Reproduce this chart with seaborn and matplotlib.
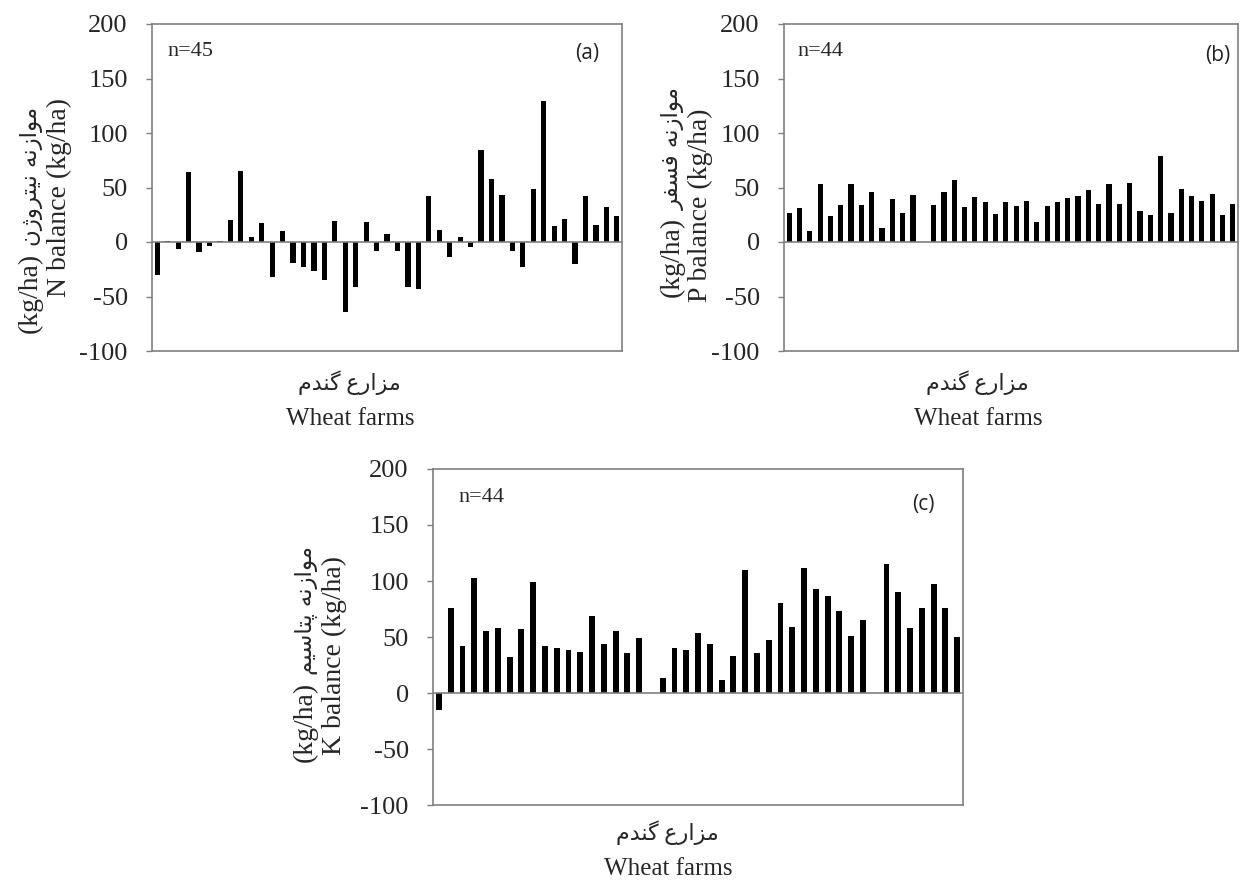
import numpy as np
import pandas as pd
import matplotlib
matplotlib.use("Agg")
import matplotlib.pyplot as plt
from matplotlib.transforms import offset_copy
import seaborn as sns

# ---------------- data ----------------
n_balance = [-30, 1, -6, 64, -9, -4, 1, 20, 65, 5, 17, -32, 10, -19, -23, -27, -35, 19,
             -64, -41, 18, -8, 7, -8, -41, -43, 42, 11, -14, 5, -5, 84, 58, 43, -8, -23,
             49, 129, 15, 21, -20, 42, 16, 32, 24]
p_balance = [27, 31, 10, 53, 24, 34, 53, 34, 46, 13, 39, 27, 43, 0, 34, 46, 57, 32, 41, 37,
             26, 37, 33, 38, 18, 33, 37, 40, 42, 48, 35, 53, 35, 54, 28, 25, 79, 27, 49, 42,
             38, 44, 25, 35]
k_balance = [-15, 76, 42, 103, 55, 58, 32, 57, 99, 42, 40, 38, 37, 69, 44, 55, 36, 49, 0,
             13, 40, 38, 54, 44, 12, 33, 110, 36, 47, 80, 59, 112, 93, 87, 73, 51, 65, 0,
             115, 90, 58, 76, 97, 76, 50]
panel_tags = ["(a)", "(b)", "(c)"]
n_labels = ["n=45", "n=44", "n=44"]
en_ylabels = ["N balance (kg/ha)", "P balance (kg/ha)", "K balance (kg/ha)"]
fa_ylabels = ["موازنه نیتروژن", "موازنه فسفر", "موازنه پتاسیم"]
unit_label = "(kg/ha)"
en_xlabel = "Wheat farms"
fa_xlabel = "مزارع گندم"
y_ticks = [-100, -50, 0, 50, 100, 150, 200]

# ------------- minimal Persian shaping (presentation forms, visual order) -------------
DUAL = {'م': '\uFEE1\uFEE2\uFEE3\uFEE4', 'ع': '\uFEC9\uFECA\uFECB\uFECC',
        'گ': '\uFB92\uFB93\uFB94\uFB95', 'ن': '\uFEE5\uFEE6\uFEE7\uFEE8',
        'ه': '\uFEE9\uFEEA\uFEEB\uFEEC', 'ی': '\uFBFC\uFBFD\uFBFE\uFBFF',
        'ت': '\uFE95\uFE96\uFE97\uFE98', 'ف': '\uFED1\uFED2\uFED3\uFED4',
        'س': '\uFEB1\uFEB2\uFEB3\uFEB4', 'پ': '\uFB56\uFB57\uFB58\uFB59'}
RIGHT = {'ا': '\uFE8D\uFE8E', 'ر': '\uFEAD\uFEAE', 'ز': '\uFEAF\uFEB0',
         'د': '\uFEA9\uFEAA', 'و': '\uFEED\uFEEE', 'ژ': '\uFB8A\uFB8B'}


def shape(s):
    out = []
    for i, c in enumerate(s):
        if c in DUAL or c in RIGHT:
            prev = s[i - 1] if i > 0 else ''
            nxt = s[i + 1] if i + 1 < len(s) else ''
            jp = prev in DUAL
            jn = (c in DUAL) and (nxt in DUAL or nxt in RIGHT)
            forms = DUAL.get(c) or RIGHT[c]
            idx = 3 if (jp and jn) else 1 if jp else 2 if jn else 0
            out.append(forms[idx])
        else:
            out.append(c)
    return ''.join(reversed(out))


# ---------------- style ----------------
sns.set_theme(style="white")
FAM = ['Liberation Serif', 'DejaVu Sans']
plt.rcParams['font.family'] = FAM
GRAY = '#7f7f7f'

W, H = 1241, 883
fig = plt.figure(figsize=(W / 100, H / 100), dpi=100)
renderer = fig.canvas.get_renderer()


def px_axes(left, top, right, bottom):
    return fig.add_axes([left / W, 1 - bottom / H, (right - left) / W, (bottom - top) / H])


axes = [px_axes(152, 24, 622, 351), px_axes(784, 24, 1238, 351), px_axes(433, 469, 963, 805)]
datasets = [n_balance, p_balance, k_balance]

# label positions
xlab_x = [0.421, 0.427, 0.443]
xlab_fa_y = [-0.098, -0.098, -0.083]
xlab_en_y = [-0.208, -0.208, -0.19]
# y-label: (baseline x px, start y px) for English line and for Persian line
ylab_en = [(66, 297), (707, 302), (341, 755)]
ylab_fa = [(37, 333), (679, 297), (312, 762)]
n_pos = [(0.081, 0.917), (0.08, 0.917), (0.092, 0.914)]
tag_pos = [(0.926, 0.911), (0.955, 0.905), (0.925, 0.893)]


def fx(px):
    return px / W


def fy(py):
    return 1 - py / H


for k, (ax, vals) in enumerate(zip(axes, datasets)):
    df = pd.DataFrame({"farm": np.arange(len(vals)), "balance": vals})
    sns.barplot(data=df, x="farm", y="balance", color="black", saturation=1,
                width=0.5, ax=ax, linewidth=0, errorbar=None)
    ax.axhline(0, color=GRAY, lw=1.2, zorder=3)
    ax.set_xlim(-0.5, len(vals) - 0.5)
    ax.set_ylim(-100, 200)
    ax.set_yticks(y_ticks)
    ax.set_yticklabels([str(t) for t in y_ticks], fontsize=19, family=FAM)
    ax.set_xticks([])
    ax.set_xlabel("")
    ax.set_ylabel("")
    ax.tick_params(axis='y', direction='out', length=4.5, width=1, color=GRAY, pad=13, left=True)
    for sp in ax.spines.values():
        sp.set_color(GRAY)
        sp.set_linewidth(1.2)
        sp.set_visible(True)
    ax.grid(False)

    # x labels
    ax.text(xlab_x[k], xlab_fa_y[k], shape(fa_xlabel), transform=ax.transAxes,
            ha='center', va='center', fontsize=16, family=FAM)
    ax.text(xlab_x[k], xlab_en_y[k], en_xlabel, transform=ax.transAxes,
            ha='center', va='center', fontsize=18, family=FAM)

    # y labels (two lines, rotated, reading bottom-to-top)
    ex, ey = ylab_en[k]
    fig.text(fx(ex), fy(ey), en_ylabels[k], rotation=90, rotation_mode='anchor',
             ha='left', va='baseline', fontsize=20, family=FAM)
    px_, py_ = ylab_fa[k]
    t_unit = fig.text(fx(px_), fy(py_), unit_label, rotation=90, rotation_mode='anchor',
                      ha='left', va='baseline', fontsize=20, family=FAM)
    ext = t_unit.get_window_extent(renderer)
    tr = offset_copy(fig.transFigure, fig=fig, x=0, y=ext.height + 7, units='dots')
    fig.text(fx(px_), fy(py_), shape(fa_ylabels[k]), transform=tr, rotation=90,
             rotation_mode='anchor', ha='left', va='baseline', fontsize=16.5,
             family=['DejaVu Sans'])

    # annotations
    ax.text(*n_pos[k], n_labels[k], transform=ax.transAxes, ha='center', va='center',
            fontsize=16, family=FAM)
    ax.text(*tag_pos[k], panel_tags[k], transform=ax.transAxes, ha='center', va='center',
            fontsize=15, family=['Open Sans', 'DejaVu Sans'], color='#222222')

fig.savefig("out.png", dpi=100, facecolor="white")
